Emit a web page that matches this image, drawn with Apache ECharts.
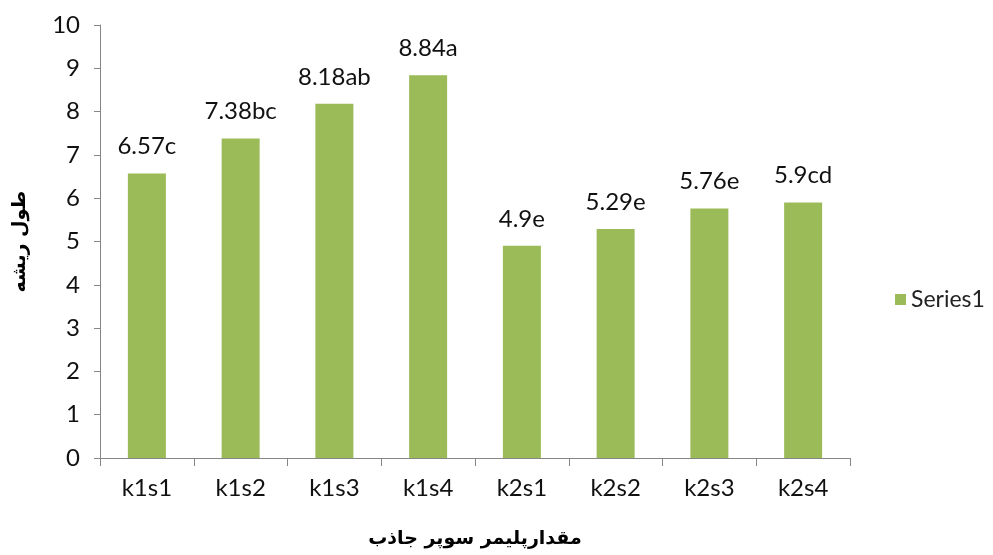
<!DOCTYPE html>
<html>
<head>
<meta charset="utf-8">
<title>chart</title>
<script src="https://cdn.jsdelivr.net/npm/echarts@6/dist/echarts.min.js"></script>
<style>
  html, body { margin: 0; padding: 0; background: #fff; }
  #main { width: 993px; height: 555px; }
</style>
</head>
<body>
<div id="main"></div>
<script>
var categories = ['k1s1', 'k1s2', 'k1s3', 'k1s4', 'k2s1', 'k2s2', 'k2s3', 'k2s4'];
var values = [6.57, 7.38, 8.18, 8.84, 4.9, 5.29, 5.76, 5.9];
var letters = ['c', 'bc', 'ab', 'a', 'e', 'e', 'e', 'cd'];
var seriesName = 'Series1';
var yTitle = 'طول ریشه';
var xTitle = 'مقدارپلیمر سوپر جاذب';

var font = 'Lato, "Open Sans", sans-serif';
var chart = echarts.init(document.getElementById('main'));

chart.setOption({
  animation: false,
  grid: { left: 100, right: 143, top: 25, bottom: 97 },
  legend: {
    data: [seriesName],
    orient: 'vertical',
    left: 890,
    top: 283,
    itemWidth: 11,
    itemHeight: 11,
    itemGap: 6,
    icon: 'rect',
    textStyle: { fontFamily: font, fontSize: 23, color: '#222' }
  },
  xAxis: {
    type: 'category',
    data: categories,
    name: xTitle,
    nameLocation: 'middle',
    nameGap: 72,
    nameTextStyle: { fontFamily: '"DejaVu Sans", sans-serif', fontWeight: 'bold', fontSize: 19, color: '#000' },
    axisLine: { lineStyle: { color: '#868686', width: 1 } },
    axisTick: { show: true, length: 8, alignWithLabel: false, lineStyle: { color: '#868686' } },
    axisLabel: { fontFamily: font, fontSize: 24, color: '#111', margin: 18 }
  },
  yAxis: {
    type: 'value',
    min: 0,
    max: 10,
    interval: 1,
    name: yTitle,
    nameLocation: 'middle',
    nameGap: 70,
    nameRotate: 90,
    nameTextStyle: { fontFamily: '"DejaVu Sans", sans-serif', fontWeight: 'bold', fontSize: 19, color: '#000' },
    axisLine: { show: true, lineStyle: { color: '#868686', width: 1 } },
    axisTick: { show: true, length: 6, lineStyle: { color: '#868686' } },
    splitLine: { show: false },
    axisLabel: { fontFamily: font, fontSize: 24, color: '#111', margin: 20 }
  },
  series: [{
    name: seriesName,
    type: 'bar',
    data: values,
    barWidth: 38,
    itemStyle: { color: '#9BBB59' },
    label: {
      show: true,
      position: 'top',
      distance: 15,
      fontFamily: font,
      fontSize: 24,
      color: '#111',
      formatter: function (p) { return p.value + letters[p.dataIndex]; }
    }
  }]
});
</script>
</body>
</html>
